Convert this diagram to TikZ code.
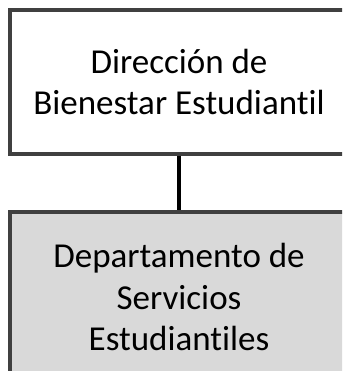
\documentclass[tikz,border=0pt]{standalone}
\usepackage{fontspec}
\setmainfont[Ligatures={NoCommon}]{Carlito}
\begin{document}
\begin{tikzpicture}[x=1pt,y=-1pt,
    unit/.style={draw=black!75, line width=4pt, align=center,
      minimum width=338pt, inner sep=0pt,
      font=\fontsize{35}{41.7}\selectfont},
    link/.style={line width=4pt, black}]

  % frame of the picture (cut at right and bottom)
  \useasboundingbox (0,0) rectangle (342,371);
  \clip (0,0) rectangle (342,371);

  % boxes
  \node[unit, fill=white, minimum height=144pt] (dir) at (179,82)
    {Dirección de\\Bienestar Estudiantil};
  \node[unit, fill=black!15, minimum height=170pt] (dep) at (179,297)
    {Departamento de\\Servicios\\Estudiantiles};

  % connector
  \draw[link] (dir.south) -- (dep.north);
\end{tikzpicture}
\end{document}
